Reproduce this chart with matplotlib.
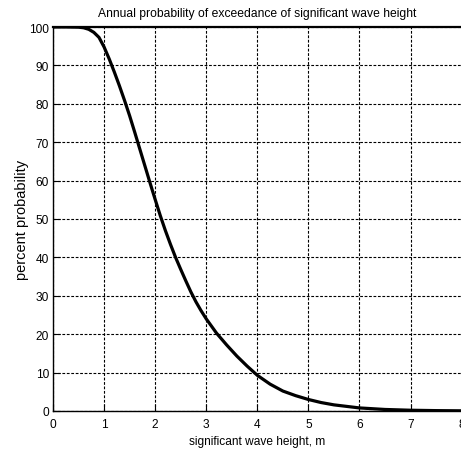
import matplotlib
matplotlib.use("Agg")
import matplotlib.pyplot as plt
from matplotlib.ticker import FixedLocator

wave_height = [0.0, 0.25, 0.5, 0.6, 0.7, 0.8, 0.9, 1.0, 1.1, 1.2, 1.3, 1.4, 1.5,
               1.6, 1.7, 1.8, 1.9, 2.0, 2.1, 2.2, 2.3, 2.4, 2.5, 2.6, 2.7, 2.8,
               2.9, 3.0, 3.2, 3.4, 3.6, 3.8, 4.0, 4.25, 4.5, 4.75, 5.0, 5.25,
               5.5, 6.0, 6.5, 7.0, 7.5, 8.0]
prob_pct = [100.0, 100.0, 99.95, 99.8, 99.4, 98.6, 97.3, 94.8, 91.7, 88.3, 84.7,
            80.9, 76.9, 72.6, 68.2, 63.8, 59.4, 55.1, 50.9, 47.0, 43.4, 40.0,
            36.9, 33.9, 31.0, 28.4, 26.1, 24.0, 20.3, 17.2, 14.3, 11.7, 9.3,
            7.0, 5.2, 4.0, 3.0, 2.2, 1.6, 0.8, 0.4, 0.2, 0.1, 0.05]
x_ticks = [0, 1, 2, 3, 4, 5, 6, 7, 8]
y_ticks = [0, 10, 20, 30, 40, 50, 60, 70, 80, 90, 100]

title = "Annual probability of exceedance of significant wave height"
xlabel = "significant wave height, m"
ylabel = "percent probability"

plt.rcParams['font.family'] = ['Liberation Sans', 'DejaVu Sans']

W, H = 461, 456
fig = plt.figure(figsize=(W / 100, H / 100), dpi=100)
left, right, top, bottom = 53, 461.6, 28, 412
ax = fig.add_axes([left / W, (H - bottom) / H, (right - left) / W, (bottom - top) / H])

ax.plot(wave_height, prob_pct, color='black', linewidth=2.3,
        solid_capstyle='butt', solid_joinstyle='round')

ax.set_xlim(0, 8)
ax.set_ylim(0, 100)
ax.xaxis.set_major_locator(FixedLocator(x_ticks))
ax.yaxis.set_major_locator(FixedLocator(y_ticks))
ax.set_xticklabels([str(v) for v in x_ticks])
ax.set_yticklabels([str(v) for v in y_ticks])

ax.grid(True, color='black', linestyle=(0, (2.5, 1.5)), linewidth=0.8)
ax.tick_params(direction='in', length=5, width=0.8, labelsize=8.6,
               top=False, right=False)
ax.tick_params(axis='x', pad=5)
ax.tick_params(axis='y', pad=3)
for s in ax.spines.values():
    s.set_linewidth(1.0)
ax.spines['top'].set_linewidth(1.6)

ax.set_title(title, fontsize=8.7, pad=8)
ax.set_xlabel(xlabel, fontsize=8.6, labelpad=4)
ax.set_ylabel(ylabel, fontsize=10.5, labelpad=0)

fig.savefig("out.png", dpi=100)
